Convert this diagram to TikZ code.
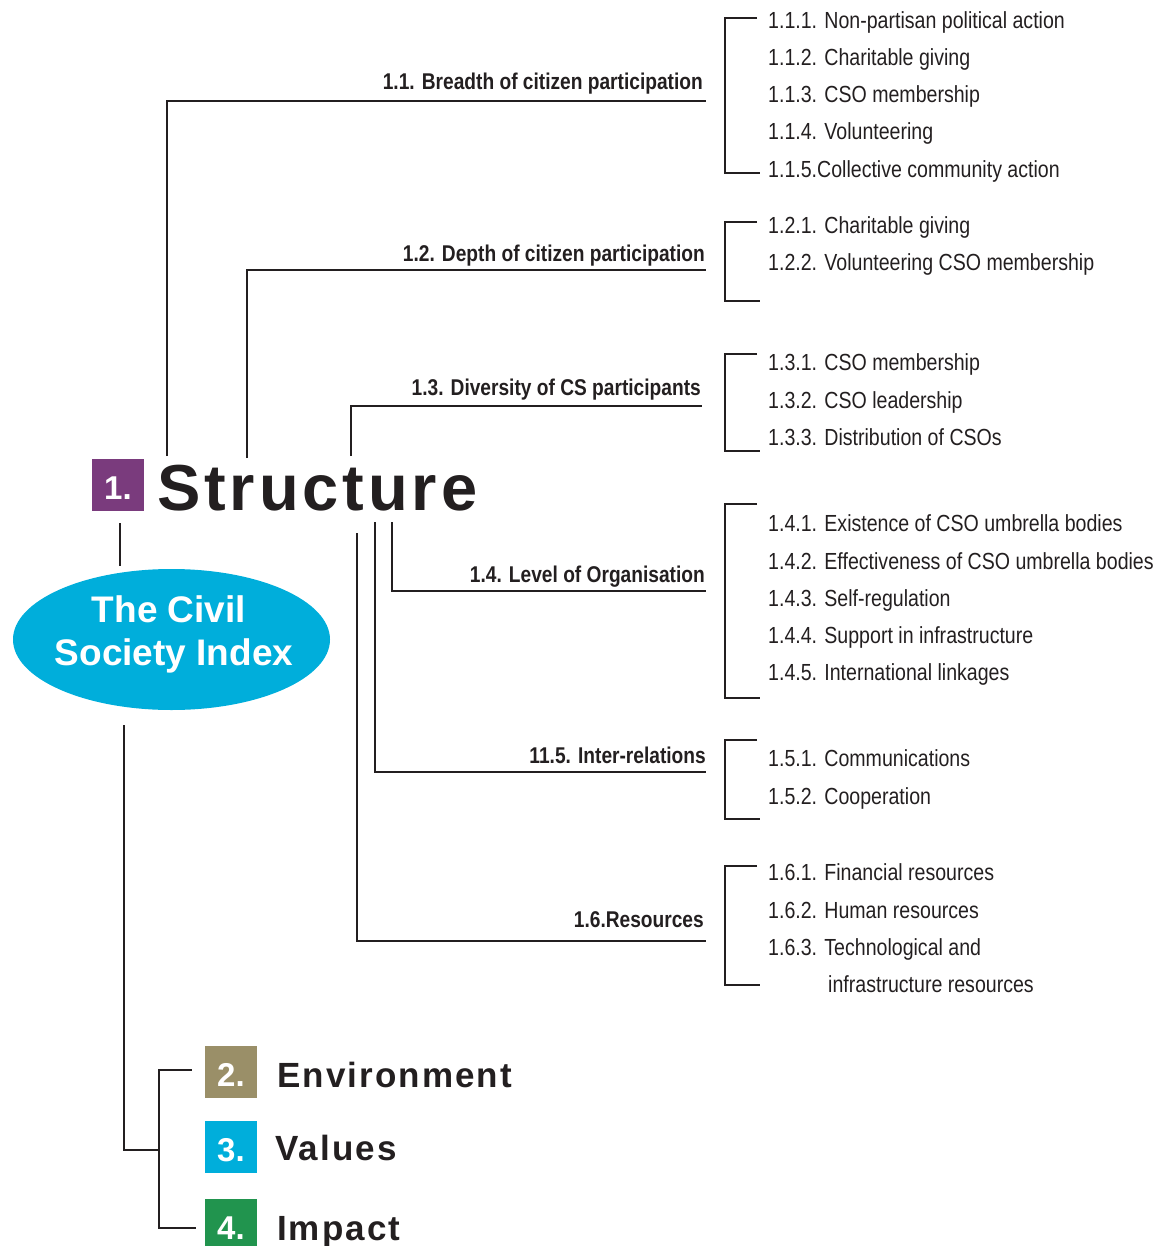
\documentclass[tikz,border=0pt]{standalone}
\usepackage{fontspec}
\usepackage{tikz}
\usetikzlibrary{shapes.geometric}
\setmainfont{Liberation Sans}
\newfontfamily\narrowfont[FakeStretch=0.84]{Liberation Sans}
\newfontfamily\headfont[LetterSpace=6]{Liberation Sans}
\definecolor{inkdark}{HTML}{231F20}
\definecolor{csipurple}{HTML}{7A3B7D}
\definecolor{csicyan}{HTML}{00AEDB}
\definecolor{csiolive}{HTML}{9A8F68}
\definecolor{csigreen}{HTML}{21944E}
\tikzset{
  ln/.style={line width=2.6pt, draw=inkdark},
  item/.style={anchor=base west, inner sep=0pt, text=inkdark, font=\narrowfont\fontsize{23.3}{27}\selectfont},
  lab/.style={anchor=base east, inner sep=0pt, text=inkdark, font=\narrowfont\bfseries\fontsize{22.8}{27}\selectfont},
  numbox/.style={minimum size=52pt, inner sep=0pt, text height=29.8pt, text depth=0pt, text=white, font=\bfseries\fontsize{33}{33}\selectfont},
  head/.style={anchor=base west, inner sep=0pt, text=inkdark, font=\headfont\bfseries\fontsize{35}{35}\selectfont}
}
\newcommand{\subbrack}[2]{\draw[ln] (757,#1) -- (725,#1) -- (725,#2) -- (760,#2);}

\begin{document}
\begin{tikzpicture}[x=1pt, y=-1pt]
    \useasboundingbox (0,0) rectangle (1163,1246);

    % main dimension
    \node[numbox, fill=csipurple] (s1) at (118,485) {1.};
    \node[head, font=\headfont\bfseries\fontsize{65}{65}\selectfont] (struct) at (157,510) {Structure};

    \node[ellipse, fill=csicyan, minimum width=317pt, minimum height=141pt, inner sep=0pt] (csi) at (171.5,639.5) {};
    \node[text=white, anchor=base, inner sep=0pt, font=\bfseries\fontsize{37}{43}\selectfont] (csit1) at (169,622) {The Civil};
    \node[text=white, anchor=base, inner sep=0pt, font=\bfseries\fontsize{37}{43}\selectfont] (csit2) at (174,665) {Society Index};
    \draw[ln, shorten <=12pt, shorten >=3pt] ([xshift=2pt]s1.south) -- ([xshift=2pt]s1.south |- csi.north);

    % sub-dimensions
    \coordinate (t11) at (167,456); \coordinate (u11) at (706,101);
    \coordinate (t12) at (247,458); \coordinate (u12) at (706,270);
    \coordinate (t13) at (351,456); \coordinate (u13) at (702,406);
    \coordinate (t14) at (392,522); \coordinate (u14) at (706,591);
    \coordinate (t15) at (375,522); \coordinate (u15) at (706,772);
    \coordinate (t16) at (357,533); \coordinate (u16) at (706,941);

    \draw[ln] (t11) |- (u11);
    \draw[ln] (t12) |- (u12);
    \draw[ln] (t13) |- (u13);
    \draw[ln] (t14) |- (u14);
    \draw[ln] (t15) |- (u15);
    \draw[ln] (t16) |- (u16);

    \node[lab] (l11) at ([xshift=-3pt, yshift=11pt]u11) {1.1. Breadth of citizen participation};
    \node[lab] (l12) at ([xshift=-1pt, yshift=8pt]u12) {1.2. Depth of citizen participation};
    \node[lab] (l13) at ([xshift=-1pt, yshift=11pt]u13) {1.3. Diversity of CS participants};
    \node[lab] (l14) at ([xshift=-1pt, yshift=9pt]u14) {1.4. Level of Organisation};
    \node[lab] (l15) at ([xshift=0pt, yshift=9pt]u15) {11.5. Inter-relations};
    \node[lab] (l16) at ([xshift=-2pt, yshift=14pt]u16) {1.6.Resources};

    % indicators
    \subbrack{18}{173}
    \node[item] (i111) at (768,29) {1.1.1. Non-partisan political action};
    \node[item] (i112) at (768,66) {1.1.2. Charitable giving};
    \node[item] (i113) at (768,103) {1.1.3. CSO membership};
    \node[item] (i114) at (768,140) {1.1.4. Volunteering};
    \node[item] (i115) at (768,178) {1.1.5.Collective community action};

    \subbrack{222}{301}
    \node[item] (i121) at (768,234) {1.2.1. Charitable giving};
    \node[item] (i122) at (768,271) {1.2.2. Volunteering CSO membership};

    \subbrack{354}{451}
    \node[item] (i131) at (768,370) {1.3.1. CSO membership};
    \node[item] (i132) at (768,408) {1.3.2. CSO leadership};
    \node[item] (i133) at (768,445) {1.3.3. Distribution of CSOs};

    \subbrack{504}{698}
    \node[item] (i141) at (768,531) {1.4.1. Existence of CSO umbrella bodies};
    \node[item] (i142) at (768,569) {1.4.2. Effectiveness of CSO umbrella bodies};
    \node[item] (i143) at (768,606) {1.4.3. Self-regulation};
    \node[item] (i144) at (768,643) {1.4.4. Support in infrastructure};
    \node[item] (i145) at (768,680) {1.4.5. International linkages};

    \subbrack{740}{819}
    \node[item] (i151) at (768,766) {1.5.1. Communications};
    \node[item] (i152) at (768,804) {1.5.2. Cooperation};

    \subbrack{866}{985}
    \node[item] (i161) at (768,880) {1.6.1. Financial resources};
    \node[item] (i162) at (768,918) {1.6.2. Human resources};
    \node[item] (i163) at (768,955) {1.6.3. Technological and};
    \node[item] (i163b) at (828,992) {infrastructure resources};

    % other dimensions
    \node[numbox, fill=csiolive] (s2) at (231,1072) {2.};
    \node[numbox, fill=csicyan] (s3) at (231,1147) {3.};
    \node[numbox, fill=csigreen] (s4) at (231,1225) {4.};
    \node[head] (env) at (277,1087) {Environment};
    \node[head] (val) at (275,1160) {Values};
    \node[head] (imp) at (277,1240) {Impact};

    \coordinate (j0) at (124,725);
    \coordinate (j1) at (124,1150);
    \coordinate (j2) at (159,1150);
    \draw[ln] (j0) -- (j1) -- (j2);
    \draw[ln] ([xshift=-13pt]s2.west |- 0,1070) -| (j2) |- ([xshift=-9pt]s4.west |- 0,1228);
\end{tikzpicture}
\end{document}
